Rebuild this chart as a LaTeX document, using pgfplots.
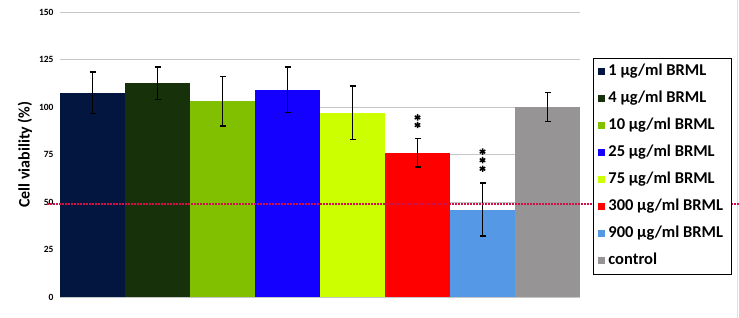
\documentclass[border=0pt]{standalone}
\usepackage{fontspec}
\setmainfont{Carlito}
\usepackage{pgfplots}
\pgfplotsset{compat=1.18}
\definecolor{c1}{HTML}{03163F}
\definecolor{c2}{HTML}{17320A}
\definecolor{c3}{HTML}{80C000}
\definecolor{c4}{HTML}{1400FF}
\definecolor{c5}{HTML}{CCFF00}
\definecolor{c6}{HTML}{FF0000}
\definecolor{c7}{HTML}{5599E6}
\definecolor{c8}{HTML}{969494}
\definecolor{refline}{HTML}{D01048}
\pgfplotsset{
  sqlegend/.style={legend image code/.code={\fill[##1,draw=none] (0pt,-3.5pt) rectangle (7pt,3.5pt);}},
}
\begin{document}
\begin{tikzpicture}[x=1pt,y=1pt]
\path[use as bounding box] (0,0) rectangle (739,318);
\draw[gray!25] (737,0) -- (737,318);
\begin{axis}[
  at={(60pt,21pt)}, anchor=south west,
  scale only axis, width=520pt, height=285pt,
  xmin=0.5, xmax=8.5, ymin=0, ymax=150,
  ytick={0,25,...,150}, xtick=\empty,
  ymajorgrids, grid style={gray!45, line width=0.6pt},
  axis line style={draw=none}, major tick length=0pt,
  clip=false,
  /pgf/number format/assume math mode=true,
  yticklabel style={font=\fontsize{9.5}{10}\selectfont\bfseries, xshift=-3pt},
  ylabel={Cell viability (\%)},
  ylabel style={font=\fontsize{16}{18}\selectfont\bfseries, yshift=0pt},
  ybar, bar width=65pt, bar shift=0pt,
  error bars/y dir=both, error bars/y explicit,
  error bars/error bar style={black, line width=1.4pt},
  error bars/error mark options={rotate=90, mark size=3pt, black, line width=1.4pt},
  legend style={at={(axis description cs:1,1)}, anchor=north west, xshift=13pt, yshift=-46pt,
    draw=black, line width=0.8pt, fill=white, font=\fontsize{16.5}{18}\selectfont\bfseries,
    row sep=9pt, inner xsep=5pt, inner ysep=4.5pt,
    legend cell align=left,
    nodes={inner xsep=3pt, inner ysep=2pt, text height=11pt, text depth=3pt}},
  sqlegend,
]
\addplot[fill=c1, draw=none] coordinates {(1,107.5) +- (0,11)};
\addplot[fill=c2, draw=none] coordinates {(2,112.5) +- (0,8.5)};
\addplot[fill=c3, draw=none] coordinates {(3,103) +- (0,13)};
\addplot[fill=c4, draw=none] coordinates {(4,109) +- (0,12)};
\addplot[fill=c5, draw=none] coordinates {(5,97) +- (0,14)};
\addplot[fill=c6, draw=none] coordinates {(6,76) +- (0,7.5)};
\addplot[fill=c7, draw=none] coordinates {(7,46) +- (0,14)};
\addplot[fill=c8, draw=none] coordinates {(8,100) +- (0,7.5)};
\addlegendentry{1 µg/ml BRML}
\addlegendentry{4 µg/ml BRML}
\addlegendentry{10 µg/ml BRML}
\addlegendentry{25 µg/ml BRML}
\addlegendentry{75 µg/ml BRML}
\addlegendentry{300 µg/ml BRML}
\addlegendentry{900 µg/ml BRML}
\addlegendentry{control}
\addplot[forget plot, sharp plot, no marks, refline, line width=1.3pt, dash pattern=on 2pt off 1pt, error bars/y dir=none]
  coordinates {(0.3,49) (10.95,49)};
\addplot[forget plot, only marks, mark=asterisk, mark size=3.2pt, black, line width=1.5pt, error bars/y dir=none]
  coordinates {(6,94.5) (6,90.5) (7,76.5) (7,72) (7,67.5)};
\end{axis}
\end{tikzpicture}
\end{document}
